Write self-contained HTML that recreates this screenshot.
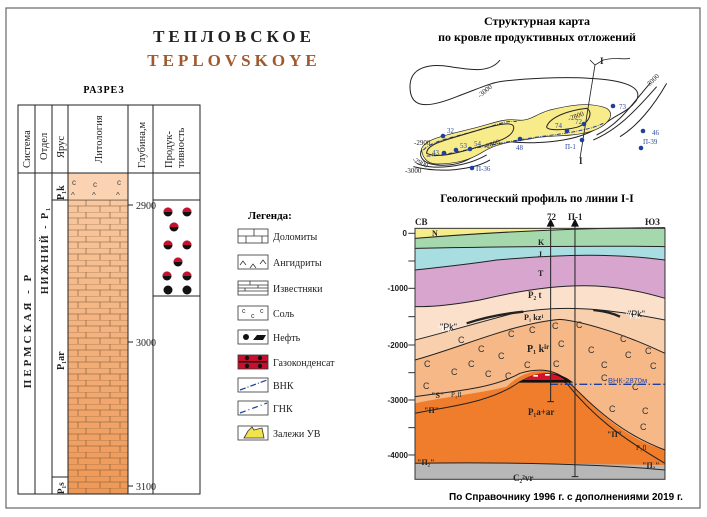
<!DOCTYPE html>
<html><head><meta charset="utf-8"><style>
html,body{margin:0;padding:0;background:#fff;}
svg{display:block;}
text{font-family:"Liberation Serif",serif;}
.s{font-family:"Liberation Sans",sans-serif;}
</style></head><body>
<svg width="707" height="517" viewBox="0 0 707 517" xmlns="http://www.w3.org/2000/svg">
<defs>
<linearGradient id="lit" x1="0" y1="0" x2="0" y2="1">
<stop offset="0" stop-color="#f8c8a0"/><stop offset="1" stop-color="#ee9856"/>
</linearGradient>
<pattern id="brick" x="68" y="200" width="60" height="12" patternUnits="userSpaceOnUse">
<line x1="0" y1="0" x2="60" y2="0" stroke="#7a5535" stroke-width="0.6"/>
<line x1="0" y1="6" x2="60" y2="6" stroke="#7a5535" stroke-width="0.6"/>
<line x1="18" y1="0" x2="18" y2="6" stroke="#7a5535" stroke-width="0.6"/>
<line x1="42" y1="0" x2="42" y2="6" stroke="#7a5535" stroke-width="0.6"/>
<line x1="10" y1="6" x2="10" y2="12" stroke="#7a5535" stroke-width="0.6"/>
<line x1="32" y1="6" x2="32" y2="12" stroke="#7a5535" stroke-width="0.6"/>
<line x1="52" y1="6" x2="52" y2="12" stroke="#7a5535" stroke-width="0.6"/>
</pattern>
<g id="d"><circle r="4.5" fill="#111"/><path d="M-4.5,0 A4.5,4.5 0 0 1 4.5,0 Z" fill="#c8102e"/></g>
</defs>
<rect x="6" y="8" width="694" height="500" fill="#fff" stroke="#666" stroke-width="1.2"/>

<text x="234" y="42" text-anchor="middle" font-size="17" font-weight="bold" letter-spacing="4" fill="#222">ТЕПЛОВСКОЕ</text>
<text x="234" y="66" text-anchor="middle" font-size="17" font-weight="bold" letter-spacing="4" fill="#a0582e">TEPLOVSKOYE</text>
<text x="104" y="93" text-anchor="middle" font-size="10" font-weight="bold" letter-spacing="1">РАЗРЕЗ</text>

<g stroke="#222" stroke-width="1" fill="none">
<rect x="68" y="173" width="60" height="27" fill="#fbd3b2" stroke="none"/>
<rect x="68" y="200" width="60" height="294" fill="url(#lit)" stroke="none"/>
<rect x="68" y="200" width="60" height="294" fill="url(#brick)" stroke="none"/>
<rect x="18" y="105" width="182" height="389"/>
<line x1="18" y1="173" x2="200" y2="173"/>
<line x1="35" y1="105" x2="35" y2="494"/>
<line x1="52" y1="105" x2="52" y2="494"/>
<line x1="68" y1="105" x2="68" y2="494"/>
<line x1="128" y1="105" x2="128" y2="494"/>
<line x1="153" y1="105" x2="153" y2="494"/>
<line x1="52" y1="200" x2="68" y2="200"/>
<line x1="52" y1="477" x2="68" y2="477"/>
<line x1="68" y1="200" x2="128" y2="200" stroke-width="0.6"/>
<rect x="153" y="200" width="47" height="96"/>
<line x1="128" y1="205" x2="133" y2="205"/>
<line x1="128" y1="342" x2="133" y2="342"/>
<line x1="128" y1="486" x2="133" y2="486"/>
</g>
<g font-size="8" fill="#444" class="s">
<text x="72" y="185" class="s">c</text><text x="93" y="187" class="s">c</text><text x="117" y="185" class="s">c</text>
<text x="71" y="198" class="s">^</text><text x="92" y="198" class="s">^</text><text x="116" y="198" class="s">^</text>
</g>
<g font-size="10" fill="#222">
<text x="136" y="209">2900</text><text x="136" y="346">3000</text><text x="136" y="490">3100</text>
</g>
<g font-size="10.5" fill="#222">
<text transform="translate(30,168) rotate(-90)">Система</text>
<text transform="translate(47,160) rotate(-90)">Отдел</text>
<text transform="translate(64,158) rotate(-90)">Ярус</text>
<text transform="translate(102,163) rotate(-90)">Литология</text>
<text transform="translate(145,168) rotate(-90)">Глубина,м</text>
<text transform="translate(172,168) rotate(-90)">Продук-</text>
<text transform="translate(184,168) rotate(-90)">тивность</text>
</g>
<g font-weight="bold" fill="#222">
<text transform="translate(31,330) rotate(-90)" font-size="11" text-anchor="middle" letter-spacing="3">ПЕРМСКАЯ - Р</text>
<text transform="translate(48,250) rotate(-90)" font-size="10" text-anchor="middle" letter-spacing="2">НИЖНИЙ - P₁</text>
<text transform="translate(64,200) rotate(-90)" font-size="10">P₁k</text>
<text transform="translate(64,370) rotate(-90)" font-size="10">P₁ar</text>
<text transform="translate(64,494) rotate(-90)" font-size="9">P₁s</text>
</g>
<g>
<use href="#d" x="168" y="212"/><use href="#d" x="187" y="212"/>
<use href="#d" x="174" y="227"/>
<use href="#d" x="168" y="245"/><use href="#d" x="187" y="245"/>
<use href="#d" x="178" y="262"/>
<use href="#d" x="167" y="276"/><use href="#d" x="187" y="276"/>
<circle cx="168" cy="290" r="4.5" fill="#111"/><circle cx="187" cy="290" r="4.5" fill="#111"/>
</g>

<text x="248" y="219" font-size="11" font-weight="bold">Легенда:</text>
<g stroke="#333" stroke-width="0.8" fill="#fff">
<rect x="238" y="229" width="30" height="14"/><rect x="238" y="255" width="30" height="14"/>
<rect x="238" y="281" width="30" height="14"/><rect x="238" y="306" width="30" height="14"/>
<rect x="238" y="330" width="30" height="14"/><rect x="238" y="355" width="30" height="14" fill="#c8102e"/>
<rect x="238" y="378" width="30" height="14"/><rect x="238" y="401" width="30" height="14"/>
<rect x="238" y="426" width="30" height="14"/>
<path d="M238,236H268M254,229V236M246,236V243M262,236V243" fill="none"/>
<path d="M240,265l3,-4l3,4M250,268l3,-4l3,4M260,264l3,-4l3,4" fill="none"/>
<path d="M238,285H268M238,288H268M238,291H268M250,281V285M258,285V288M245,288V291" fill="none"/>
<path d="M248,431l4,-4l2,3l8,-2l2,10h-20z" fill="#f3e34a"/>
</g>
<g font-size="7" fill="#333" class="s"><text x="242" y="313" class="s">c</text><text x="251" y="318" class="s">c</text><text x="260" y="313" class="s">c</text></g>
<circle cx="246" cy="337" r="3" fill="#111"/><path d="M253,340l4,-5h9l-3,5z" fill="#111"/>
<rect x="239" y="361" width="28" height="1.5" fill="#111"/>
<circle cx="247" cy="358" r="2.2" fill="#111"/><circle cx="260" cy="358" r="2.2" fill="#111"/>
<circle cx="247" cy="366" r="2.2" fill="#111"/><circle cx="260" cy="366" r="2.2" fill="#111"/>
<path d="M240,390L267,380" stroke="#1f3f9a" stroke-width="1.2" stroke-dasharray="6,2,1,2"/>
<path d="M240,413L267,403" stroke="#1f3f9a" stroke-width="1.2" stroke-dasharray="6,3,1,3"/>
<g font-size="10" fill="#222">
<text x="273" y="240">Доломиты</text><text x="273" y="266">Ангидриты</text>
<text x="273" y="292">Известняки</text><text x="273" y="317">Соль</text>
<text x="273" y="341">Нефть</text><text x="273" y="366">Газоконденсат</text>
<text x="273" y="389">ВНК</text><text x="273" y="412">ГНК</text>
<text x="273" y="437">Залежи УВ</text>
</g>

<text x="537" y="25" text-anchor="middle" font-size="12" font-weight="bold">Структурная карта</text>
<text x="537" y="41" text-anchor="middle" font-size="12" font-weight="bold">по кровле продуктивных отложений</text>
<g transform="translate(390,40) scale(0.3333)" fill="none" stroke="#222" stroke-width="3">
<path d="M330,60 C300,100 240,90 180,80 C120,70 60,80 60,140 C60,200 100,210 200,170 C280,140 300,130 330,125 C400,115 520,110 600,115 C700,120 760,140 740,180 C720,210 690,220 660,240 C620,270 580,290 520,300 C460,310 400,310 360,305 C300,305 270,345 220,365 C180,380 120,380 100,360 C80,340 100,310 130,300"/>
<path d="M95,325 C110,295 170,285 250,265 C310,250 340,235 380,240 C420,245 430,225 480,210 C540,195 600,185 650,205 C680,225 650,260 600,275 C540,292 470,285 430,295 C380,305 330,305 280,335 C240,360 200,372 140,372 C110,372 95,350 95,325 Z" fill="#f8eb8a" stroke-width="2"/>
<path d="M100,330 C130,300 200,290 260,272 C320,255 350,240 380,245" stroke="#1f3f9a" stroke-dasharray="12,4,2,4"/>
<path d="M110,348 C150,350 220,330 280,320 C330,310 380,300 450,290 C530,280 600,270 640,250" stroke="#1f3f9a" stroke-dasharray="12,4,2,4"/>
<path d="M110,340 C110,310 170,300 250,275 C330,250 380,240 370,270 C360,300 300,310 250,325 C200,340 140,355 110,340 Z" stroke-width="3"/>
<path d="M470,260 C480,230 540,210 590,205 C610,215 600,250 560,262 C520,272 470,272 470,260 Z" stroke-width="3"/>
<path d="M80,370 C120,390 220,385 290,345"/><path d="M70,380 C150,400 250,390 300,360"/>
<path d="M610,300 C680,270 730,220 800,140"/><path d="M620,285 C690,250 720,200 780,130"/><path d="M690,290 C740,260 790,200 830,130"/>
<path d="M570,355 L615,75 L600,60 M615,75 L640,60 C680,50 700,60 720,55" stroke-width="2.5"/>
</g>
<g font-size="7" fill="#2a4a9a">
<circle cx="443" cy="136" r="2.3" fill="#1f3f9a"/><text x="447" y="133">32</text>
<circle cx="444" cy="153" r="2.3" fill="#1f3f9a"/><text x="432" y="155">43</text>
<circle cx="456" cy="150" r="2.3" fill="#1f3f9a"/><text x="460" y="148">53</text>
<circle cx="470" cy="149" r="2.3" fill="#1f3f9a"/><text x="474" y="146">54</text>
<circle cx="520" cy="139" r="2.3" fill="#1f3f9a"/><text x="516" y="150">48</text>
<circle cx="567" cy="131" r="2.3" fill="#1f3f9a"/><text x="555" y="128">74</text>
<circle cx="584" cy="124" r="2.3" fill="#1f3f9a"/><text x="575" y="124">72</text>
<circle cx="582" cy="140" r="2.3" fill="#1f3f9a"/><text x="565" y="149">П-1</text>
<circle cx="613" cy="106" r="2.3" fill="#1f3f9a"/><text x="619" y="109">73</text>
<circle cx="643" cy="131" r="2.3" fill="#1f3f9a"/><text x="652" y="135">46</text>
<circle cx="641" cy="148" r="2.3" fill="#1f3f9a"/><text x="643" y="144">П-39</text>
<circle cx="472" cy="168" r="2.3" fill="#1f3f9a"/><text x="476" y="171">П-36</text>
</g>
<g font-size="7" fill="#222">
<text x="414" y="145">-2900</text><text x="412" y="161" transform="rotate(25,412,161)">-2900</text><text x="405" y="173">-3000</text>
<text x="480" y="98" transform="rotate(-40,480,98)">-3000</text>
<text x="648" y="88" transform="rotate(-45,648,88)">-3000</text>
<text x="485" y="149" transform="rotate(-20,485,149)">-2800</text>
<text x="569" y="121" transform="rotate(-20,569,121)">-2800</text>
<text x="600" y="64" font-weight="bold" font-size="9">I</text><text x="579" y="164" font-weight="bold" font-size="9">I</text>
</g>

<text x="537" y="202" text-anchor="middle" font-size="11.5" font-weight="bold">Геологический профиль по линии I-I</text>
<g transform="translate(380,200) scale(0.3333)">
<rect x="105" y="85" width="750" height="753" fill="#b7b7b7"/>
<path d="M105,85H855V795C700,795 400,785 105,790Z" fill="#ef7d2c"/>
<path d="M105,85H855V750C780,730 700,680 620,600 C580,560 560,530 510,512 C460,510 420,520 380,560 C300,580 200,590 105,610Z" fill="#f6b887"/>
<path d="M105,85H855V460C750,410 620,365 540,358 C400,370 250,440 105,480Z" fill="#f9d0ad"/>
<path d="M105,85H855V360C700,330 560,310 400,340 C250,380 150,410 105,420Z" fill="#fbe1cc"/>
<path d="M105,85H855V295C700,250 560,238 300,300 C200,318 150,320 105,320Z" fill="#d7a5cd"/>
<path d="M105,85H855V180C700,160 560,162 350,180 C250,195 150,205 105,210Z" fill="#a8dde2"/>
<path d="M105,85H855V140C700,137 500,138 105,145Z" fill="#a6d8ae"/>
<path d="M105,85H855C600,83 320,98 105,115Z" fill="#f6ec8c"/>
<g fill="none" stroke="#222" stroke-width="3">
<path d="M105,115C320,98 600,83 855,83"/><path d="M105,145C500,138 700,137 855,140"/>
<path d="M105,210C150,205 250,195 350,180 C560,162 700,160 855,180"/>
<path d="M105,320C150,320 200,318 300,300 C560,238 700,250 855,295"/>
<path d="M105,420C150,410 250,380 400,340 C560,310 700,330 855,360"/>
<path d="M105,480C250,440 400,370 540,358 C620,365 750,410 855,460"/>
<path d="M105,590C200,575 330,570 420,520 C470,505 520,505 560,540 C640,620 720,700 855,750"/>
<path d="M105,640C200,620 330,610 420,545 C470,525 520,530 560,550 C640,650 720,710 855,790"/>
<path d="M105,790C400,785 700,795 855,810"/>
</g>
<path d="M260,370 C320,350 380,340 430,335" stroke="#222" stroke-width="7" fill="none"/>
<path d="M640,330 C680,335 700,340 720,350" stroke="#222" stroke-width="7" fill="none"/>
<path d="M415,548 C460,515 530,505 580,548Z" fill="#111"/>
<path d="M430,540 C470,515 520,512 555,540Z" fill="#d4132a"/>
<rect x="460" y="525" width="14" height="5" fill="#fff"/><rect x="495" y="522" width="14" height="5" fill="#fff"/>
<line x1="510" y1="553" x2="855" y2="553" stroke="#1f3f9a" stroke-width="4" stroke-dasharray="24,8,4,8"/>
<line x1="512" y1="75" x2="512" y2="605" stroke="#222" stroke-width="3"/>
<line x1="585" y1="75" x2="585" y2="830" stroke="#222" stroke-width="3"/>
<line x1="502" y1="605" x2="522" y2="605" stroke="#222" stroke-width="3"/>
<line x1="575" y1="830" x2="595" y2="830" stroke="#222" stroke-width="3"/>
<path d="M500,80L512,55L524,80Z M573,80L585,55L597,80Z" fill="#111"/>
<rect x="105" y="85" width="750" height="753" fill="none" stroke="#333" stroke-width="3"/>
<g stroke="#333" stroke-width="3">
<line x1="85" y1="100" x2="105" y2="100"/><line x1="85" y1="183" x2="105" y2="183"/><line x1="85" y1="265" x2="105" y2="265"/>
<line x1="85" y1="350" x2="105" y2="350"/><line x1="85" y1="435" x2="105" y2="435"/><line x1="85" y1="518" x2="105" y2="518"/>
<line x1="85" y1="600" x2="105" y2="600"/><line x1="85" y1="683" x2="105" y2="683"/><line x1="85" y1="765" x2="105" y2="765"/>
</g>
</g>
<g font-size="8" font-weight="bold" fill="#222" class="s">
<text x="407" y="236" text-anchor="end" class="s">0</text>
<text x="408" y="291" text-anchor="end" class="s">-1000</text>
<text x="408" y="348" text-anchor="end" class="s">-2000</text>
<text x="408" y="403" text-anchor="end" class="s">-3000</text>
<text x="408" y="458" text-anchor="end" class="s">-4000</text>
</g>
<g font-size="9" font-weight="bold" fill="#222">
<text x="415" y="225">СВ</text><text x="645" y="225">ЮЗ</text>
<text x="547" y="220">72</text><text x="568" y="220">П-1</text>
<text x="432" y="236" font-size="8">N</text>
<text x="538" y="245" font-size="8">K</text><text x="538" y="257" font-size="8">J</text>
<text x="538" y="276" font-size="8">T</text>
<text x="528" y="298">P₂ t</text>
<text x="524" y="320" font-size="8">P₁ kz¹</text>
<text x="527" y="352" font-size="10">P₁ k<tspan font-size="7" dy="-3">ir</tspan></text>
<text x="528" y="415">P₁a+ar</text>
<text x="513" y="481" font-size="9">C₂²vr</text>
<text x="417" y="465" font-size="8">"П₂"</text><text x="642" y="468" font-size="8">"П₂"</text>
<text x="424" y="413" font-size="8">"П"</text><text x="607" y="437" font-size="8">"П"</text>
<text x="431" y="398" font-size="8">"S"</text>
</g>
<g font-size="7" fill="#222"><text x="451" y="397">P₁fl</text><text x="636" y="450">P₁fl</text></g>
<g font-size="9" fill="#fff" class="s"><text x="438" y="332" class="s">"Pk"</text><text x="626" y="319" class="s">"Pk"</text></g>
<g font-size="9" fill="#222" class="s"><text x="440" y="330" class="s">"Pk"</text><text x="628" y="317" class="s">"Pk"</text></g>
<text x="608" y="383" font-size="7.5" fill="#2a4aaa" class="s">ВНК-2870м</text>
<g font-size="9" fill="#333" class="s">
<text x="424" y="367" class="s">C</text><text x="451" y="375" class="s">C</text><text x="468" y="367" class="s">C</text>
<text x="485" y="377" class="s">C</text><text x="498" y="359" class="s">C</text><text x="508" y="337" class="s">C</text>
<text x="529" y="333" class="s">C</text><text x="552" y="329" class="s">C</text><text x="558" y="347" class="s">C</text>
<text x="576" y="328" class="s">C</text><text x="588" y="353" class="s">C</text><text x="620" y="342" class="s">C</text>
<text x="625" y="358" class="s">C</text><text x="645" y="354" class="s">C</text><text x="650" y="369" class="s">C</text>
<text x="601" y="368" class="s">C</text><text x="553" y="367" class="s">C</text><text x="524" y="368" class="s">C</text>
<text x="478" y="352" class="s">C</text><text x="505" y="379" class="s">C</text><text x="423" y="389" class="s">C</text>
<text x="601" y="381" class="s">C</text><text x="632" y="390" class="s">C</text><text x="609" y="412" class="s">C</text>
<text x="642" y="414" class="s">C</text><text x="640" y="430" class="s">C</text><text x="458" y="343" class="s">C</text>
</g>
<text x="566" y="500" text-anchor="middle" font-size="10" font-weight="bold" class="s">По Справочнику 1996 г. с дополнениями 2019 г.</text>
</svg>
</body></html>
